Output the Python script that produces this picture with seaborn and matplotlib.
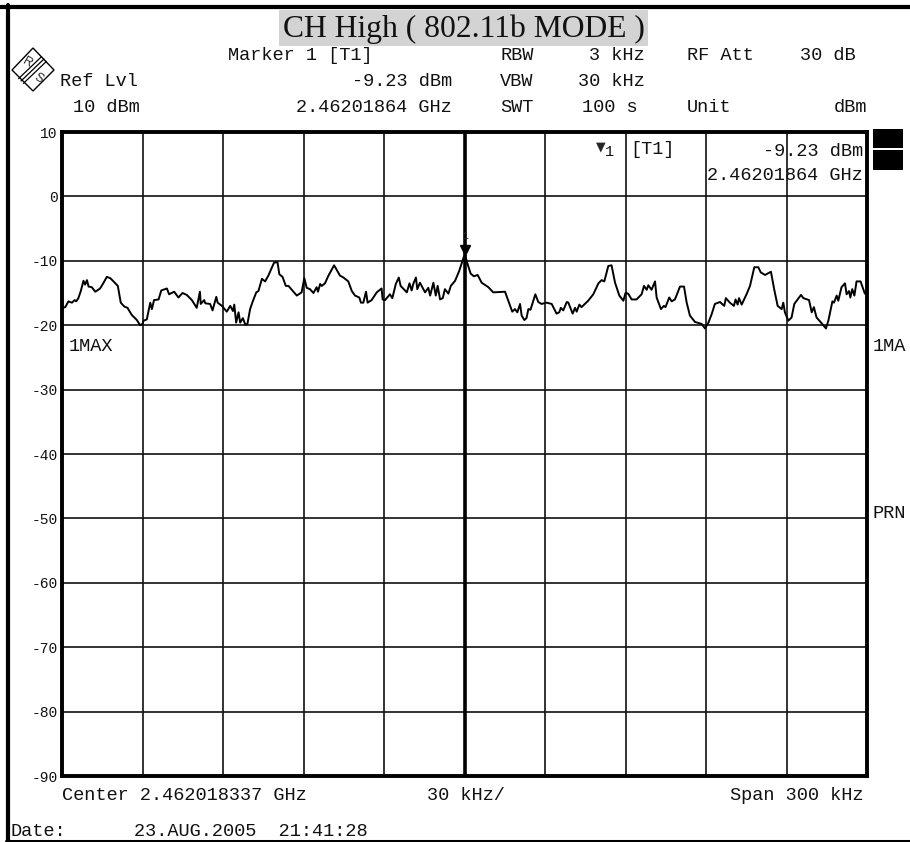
import pandas as pd
import seaborn as sns
import matplotlib
matplotlib.use('Agg')
import matplotlib.pyplot as plt
from matplotlib.lines import Line2D
from matplotlib.patches import Polygon, Rectangle

W, H = 910, 842

# Trace values
freq_khz = [
    -149.8, -148.8, -147.6, -146.3, -145.3, -144.7, -143.9, -143.0, -142.0, -141.4, -140.7, -140.1,
    -138.9, -137.6, -135.8, -134.5, -133.3, -132.0, -130.8, -129.2, -128.1, -126.8, -125.6, -124.0,
    -122.1, -120.9, -120.0, -119.6, -118.4, -117.1, -116.5, -115.7, -114.0, -113.0, -110.9, -110.1,
    -108.2, -106.6, -105.1, -103.5, -101.6, -99.8, -98.6, -98.3, -97.0, -96.6, -94.8, -93.9,
    -92.5, -92.0, -90.4, -88.6, -87.3, -86.3, -85.8, -85.1, -84.2, -83.6, -82.6, -81.7,
    -80.9, -79.9, -78.9, -77.6, -76.8, -75.5, -74.3, -73.1, -71.0, -69.7, -69.0, -67.8,
    -66.6, -65.6, -62.5, -60.7, -59.7, -58.8, -57.6, -56.3, -55.1, -54.6, -53.8, -53.2,
    -52.0, -50.7, -48.6, -46.4, -45.1, -43.3, -42.0, -40.8, -39.2, -38.6, -37.7, -36.7,
    -36.1, -34.6, -32.7, -30.9, -30.5, -29.6, -27.8, -26.9, -25.6, -24.5, -23.8, -21.5,
    -20.5, -19.7, -19.1, -18.1, -17.6, -16.6, -14.7, -13.5, -12.8, -11.6, -10.7, -10.0,
    -9.1, -8.1, -7.3, -6.0, -5.1, -3.5, -2.0, -0.2, 0.3, 1.0, 2.3, 3.5,
    4.9, 6.4, 8.9, 10.7, 15.1, 17.0, 17.8, 18.8, 19.7, 20.7, 21.3, 22.3,
    23.1, 23.8, 24.6, 26.4, 27.5, 28.7, 30.6, 32.5, 34.3, 35.3, 35.9, 36.8,
    38.1, 38.7, 40.3, 41.2, 41.8, 42.8, 43.6, 46.1, 48.0, 49.9, 51.1, 52.1,
    53.6, 54.8, 56.1, 57.7, 59.2, 60.0, 61.0, 62.3, 64.1, 66.0, 66.9, 67.9,
    68.5, 69.7, 71.0, 71.6, 73.2, 74.3, 74.9, 76.3, 77.2, 78.4, 79.0, 80.3,
    81.8, 82.8, 84.0, 85.9, 88.4, 89.6, 90.9, 92.1, 93.3, 95.2, 96.8, 97.4,
    98.9, 100.4, 101.0, 101.8, 102.3, 103.3, 105.1, 106.4, 108.0, 109.5, 110.4, 112.0,
    114.2, 115.4, 116.7, 118.2, 118.8, 119.4, 120.7, 121.9, 122.9, 125.4, 126.3, 128.4,
    129.4, 130.2, 131.2, 133.1, 134.7, 135.6, 137.1, 137.7, 138.7, 139.3, 140.5, 141.8,
    142.4, 143.3, 143.8, 144.5, 145.3, 146.1, 147.6, 149.2,
]
level_dbm = [
    -17.3, -17.2, -16.3, -16.5, -16.1, -16.3, -15.8, -14.7, -13.1, -13.7, -13.0, -14.0,
    -14.1, -14.8, -14.3, -13.4, -12.5, -12.7, -13.2, -13.9, -16.5, -17.1, -17.3, -18.4,
    -19.2, -20.0, -19.8, -19.3, -19.1, -16.5, -17.5, -16.1, -16.0, -14.6, -14.3, -15.2,
    -14.8, -15.7, -15.0, -15.3, -16.1, -17.3, -14.8, -16.7, -16.1, -16.6, -16.7, -17.7,
    -15.6, -16.5, -17.0, -17.9, -17.0, -17.8, -16.8, -19.6, -18.0, -19.6, -18.9, -19.9,
    -19.8, -17.5, -16.3, -14.9, -14.7, -12.8, -13.2, -12.3, -10.3, -10.2, -12.1, -12.5,
    -13.9, -13.9, -15.4, -14.9, -12.7, -14.2, -14.4, -15.0, -14.1, -14.8, -13.6, -13.9,
    -13.5, -12.3, -10.7, -12.3, -12.6, -13.2, -14.7, -15.4, -15.7, -16.5, -16.5, -14.8,
    -16.5, -16.1, -14.9, -14.3, -16.0, -16.1, -15.2, -15.8, -13.6, -12.6, -13.9, -14.9,
    -13.5, -14.6, -13.6, -12.6, -14.4, -13.4, -14.9, -14.2, -15.4, -13.4, -15.4, -13.9,
    -16.0, -15.8, -14.4, -15.1, -13.9, -13.1, -11.6, -9.3, -9.23, -10.3, -12.0, -12.4,
    -12.2, -13.4, -14.1, -14.9, -14.8, -17.0, -17.9, -17.5, -18.0, -16.7, -18.5, -19.2,
    -18.9, -17.5, -17.6, -15.2, -16.4, -16.7, -16.5, -16.7, -18.2, -18.0, -17.3, -17.7,
    -16.4, -16.5, -18.2, -17.3, -17.9, -16.8, -17.2, -16.2, -15.2, -13.5, -13.0, -13.2,
    -10.8, -10.7, -13.4, -15.4, -16.2, -15.0, -15.1, -16.0, -16.0, -15.2, -13.9, -14.5,
    -13.8, -14.5, -13.2, -15.7, -17.5, -17.0, -17.2, -15.7, -16.3, -16.0, -15.4, -14.0,
    -14.0, -16.5, -18.5, -19.5, -19.8, -20.5, -19.6, -18.3, -16.7, -16.4, -17.0, -15.8,
    -16.5, -17.0, -16.0, -16.8, -15.8, -16.8, -15.2, -13.9, -11.0, -11.0, -11.8, -12.2,
    -11.7, -14.4, -17.0, -17.5, -16.5, -18.0, -19.3, -18.8, -16.7, -15.3, -15.8, -16.1,
    -18.0, -17.2, -18.8, -19.7, -20.5, -19.3, -16.3, -16.5, -15.4, -16.2, -14.1, -13.5,
    -15.2, -14.7, -15.7, -14.4, -15.4, -13.2, -13.2, -15.1,
]

y_ticks = [10, 0, -10, -20, -30, -40, -50, -60, -70, -80, -90]
y_tick_labels = ['10', '0', '-10', '-20', '-30', '-40', '-50', '-60', '-70', '-80', '-90']
x_ticks = [-120, -90, -60, -30, 0, 30, 60, 90, 120]

title = 'CH High ( 802.11b MODE )'
marker_freq = 0.3
marker_level = -9.23

# text, x px, y px, alignment
header_texts = [
    ('Marker 1 [T1]', 228, 55, 'left'),
    ('Ref Lvl', 60, 81, 'left'),
    ('10 dBm', 73, 107, 'left'),
    ('-9.23 dBm', 452, 81, 'right'),
    ('2.46201864 GHz', 452, 107, 'right'),
    ('RBW', 500, 55, 'left'),
    ('VBW', 500, 81, 'left'),
    ('SWT', 500, 107, 'left'),
    ('3 kHz', 645, 55, 'right'),
    ('30 kHz', 645, 81, 'right'),
    ('100 s', 582, 107, 'left'),
    ('RF Att', 687, 55, 'left'),
    ('Unit', 687, 107, 'left'),
    ('30 dB', 856, 55, 'right'),
    ('dBm', 867, 107, 'right'),
    ('[T1]', 630, 150, 'left'),
    ('-9.23 dBm', 863, 151, 'right'),
    ('2.46201864 GHz', 863, 176, 'right'),
    ('1MAX', 69, 347, 'left'),
    ('1MA', 873, 347, 'left'),
    ('PRN', 873, 513, 'left'),
    ('Center 2.462018337 GHz', 62, 795, 'left'),
    ('30 kHz/', 427, 795, 'left'),
    ('Span 300 kHz', 863, 795, 'right'),
    ('Date:', 10, 831, 'left'),
    ('23.AUG.2005  21:41:28', 134, 831, 'left'),
]


def fx(x):
    return x / W


def fy(y):
    return 1 - y / H


sns.set_style('white')
plt.rcParams['font.family'] = ['Liberation Mono', 'DejaVu Sans']

fig = plt.figure(figsize=(W / 100, H / 100), dpi=100)
ax = fig.add_axes([fx(62), fy(776), (867 - 62) / W, (776 - 132) / H])

df = pd.DataFrame({'freq': freq_khz, 'level': level_dbm})
sns.lineplot(data=df, x='freq', y='level', color='black', linewidth=1.4, estimator=None,
             sort=False, ax=ax, zorder=4)

ax.set_xlim(-150, 150)
ax.set_ylim(-90, 10)
ax.set_xticks(x_ticks)
ax.set_xticklabels([])
ax.set_yticks(y_ticks)
ax.set_yticklabels(y_tick_labels, fontsize=10.5, color='#111111')
ax.tick_params(axis='both', length=0)
ax.tick_params(axis='y', pad=3)
ax.set_xlabel('')
ax.set_ylabel('')
ax.grid(True, color='#111111', linewidth=1.2)
ax.set_axisbelow(True)
ax.axvline(0, color='black', linewidth=2.6, zorder=3)
for spine in ax.spines.values():
    spine.set_visible(True)
    spine.set_color('black')
    spine.set_linewidth(2.8)

# Marker on the peak
ax.plot([marker_freq], [marker_level + 0.9], marker='v', color='black', markersize=7, zorder=5)
ax.text(marker_freq, marker_level + 3.1, '1', ha='center', va='center', fontsize=7)

# Outer screen border
for xs, ys, lw in [((0, 1), (fy(7), fy(7)), 3.0),
                   ((fx(8), fx(8)), (fy(5), 0), 3.0),
                   ((fx(6), 1), (fy(840.5), fy(840.5)), 2.2)]:
    fig.add_artist(Line2D(xs, ys, color='black', linewidth=lw))

# Side blocks next to the graticule
for y0, y1 in [(129, 148), (150, 170)]:
    fig.add_artist(Rectangle((fx(873), fy(y1)), 30 / W, (y1 - y0) / H, color='black', linewidth=0))

# R&S logo
logo = [(12, 70), (33, 48), (54, 70), (33, 91)]
fig.add_artist(Polygon([(fx(a), fy(b)) for a, b in logo], closed=True, facecolor='white',
                       edgecolor='black', linewidth=1.0))
for off in [-2.4, 0, 2.4]:
    fig.add_artist(Line2D([fx(21 + off), fx(44 + off)], [fy(81 + off), fy(59 + off)],
                          color='black', linewidth=0.9))
fig.text(fx(27), fy(63), 'R', rotation=-30, ha='center', va='center', fontsize=9, family='Liberation Sans')
fig.text(fx(39), fy(78), 'S', rotation=-30, ha='center', va='center', fontsize=9, family='Liberation Sans')

# Title on its grey band
fig.add_artist(Rectangle((fx(279), fy(46)), 369 / W, 36 / H, facecolor='#d3d3d3', linewidth=0))
fig.text(fx(463.5), fy(29), title, ha='center', va='center', fontsize=22.8,
         family='Liberation Serif', color='#111111')

for s, x, y, align in header_texts:
    fig.text(fx(x), fy(y), s, ha=align, va='center', fontsize=13.4, color='#111111')

fig.text(fx(601), fy(147), '▼', ha='center', va='center', fontsize=9, family='DejaVu Sans')
fig.text(fx(610), fy(152), '1', ha='center', va='center', fontsize=11, color='#111111')

plt.savefig('out.png', dpi=100)
plt.close()
